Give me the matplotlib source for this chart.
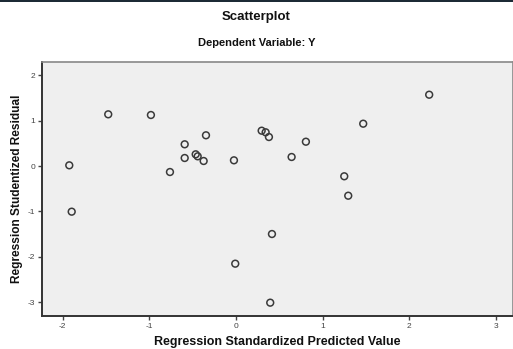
import matplotlib
matplotlib.use("Agg")
import matplotlib.pyplot as plt
from matplotlib.patches import Rectangle

pred = [-1.925, -1.897, -1.475, -0.982, -0.762, -0.592, -0.592, -0.465, -0.442, -0.373,
        -0.346, -0.023, 0.297, 0.343, 0.381, 0.808, 0.643, 1.470, 2.232, 1.251,
        1.297, -0.008, 0.416, 0.396]
resid = [0.015, -1.004, 1.136, 1.121, -0.132, 0.477, 0.176, 0.257, 0.213, 0.110,
         0.675, 0.125, 0.776, 0.741, 0.637, 0.534, 0.198, 0.930, 1.567, -0.226,
         -0.653, -2.147, -1.495, -3.004]
xticks = [-2, -1, 0, 1, 2, 3]
yticks = [-3, -2, -1, 0, 1, 2]

plt.rcParams['font.family'] = ['Liberation Sans', 'DejaVu Sans']

fig = plt.figure(figsize=(5.13, 3.49), dpi=100)
fig.patch.set_facecolor('white')
fig.add_artist(Rectangle((0, 1 - 2/349), 1, 2/349, transform=fig.transFigure,
                         facecolor='#1c2a35', edgecolor='none'))

ax = fig.add_axes([42/513, 33/349, 1 - 42/513, (316 - 62)/349])
ax.set_facecolor('#efefef')
ax.scatter(pred, resid, s=24, facecolors='none', edgecolors='#3a3a3a', linewidths=1.1, zorder=3)
ax.set_xlim(-2.24, 3.2)
ax.set_ylim(-3.297, 2.286)
ax.set_xticks(xticks)
ax.set_yticks(yticks)
ax.set_xticklabels([str(t) for t in xticks])
ax.set_yticklabels([str(t) for t in yticks])
ax.tick_params(axis='both', direction='out', length=3, width=1, color='#444444',
               labelsize=6, labelcolor='#444444', pad=2)
for side in ['left', 'bottom']:
    ax.spines[side].set_color('#333333')
    ax.spines[side].set_linewidth(1.4)
for side in ['top', 'right']:
    ax.spines[side].set_color('#888888')
    ax.spines[side].set_linewidth(1.2)

ax.set_xlabel('Regression Standardized Predicted Value', fontsize=9, fontweight='bold',
              color='#111111', labelpad=4)
ax.set_ylabel('Regression Studentized Residual', fontsize=8.6, fontweight='bold',
              color='#111111', labelpad=3)

fig.text(0.5, 1 - 17/349, 'Scatterplot', ha='center', va='center', fontsize=9.5,
         fontweight='bold', color='#111111')
fig.text(0.5, 1 - 43/349, 'Dependent Variable: Y', ha='center', va='center', fontsize=8,
         fontweight='bold', color='#111111')

fig.savefig('out.png', dpi=100, facecolor='white')
